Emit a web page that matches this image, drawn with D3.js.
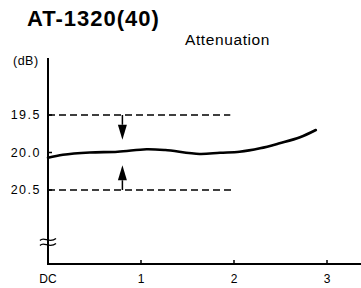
<!DOCTYPE html>
<html>
<head>
<meta charset="utf-8">
<script src="https://cdn.jsdelivr.net/npm/d3@7"></script>
<style>
  body { margin: 0; background: #fff; }
  svg { display: block; font-family: "Liberation Sans", Arial, sans-serif; }
</style>
</head>
<body>
<svg id="chart" width="361" height="288"></svg>
<script>
// frequency (DC, 1, 2, 3) vs attenuation in dB
const freqTicks = [0, 1, 2, 3];
const freqLabels = ["DC", "1", "2", "3"];
const dbTicks = [19.5, 20.0, 20.5];
const dbLabels = ["19.5", "20.0", "20.5"];

const curveFreq = [0, 0.16, 0.45, 0.75, 1.06, 1.26, 1.63, 1.85, 2.06, 2.28, 2.49, 2.71, 2.88];
const curveDb = [20.07, 20.03, 20.0, 19.99, 19.956, 19.967, 20.02, 20.003, 19.99, 19.944, 19.877, 19.797, 19.7];

const limitDb = [19.5, 20.5];
const limitEnd = [1.96, 2.01];

const svg = d3.select("#chart");

let x = d3.scaleLinear().domain([0, 3]).range([48, 327]);
let y = d3.scaleLinear().domain([19.5, 20.5]).range([115, 190]);

let axisTop = 58;
let axisBottom = 264;

// title
svg.append("text")
  .attr("x", 27)
  .attr("y", 26)
  .attr("font-size", "22px")
  .attr("font-weight", "bold")
  .attr("letter-spacing", "1px")
  .text("AT-1320(40)");

svg.append("text")
  .attr("x", 185)
  .attr("y", 45)
  .attr("font-size", "15.5px")
  .attr("letter-spacing", "0.6px")
  .text("Attenuation");

svg.append("text")
  .attr("x", 13)
  .attr("y", 65)
  .attr("font-size", "12.5px")
  .attr("letter-spacing", "0.5px")
  .text("(dB)");

// dashed limit lines
svg.selectAll(".limit")
  .data(limitDb)
  .enter()
  .append("line")
  .attr("x1", x(0))
  .attr("x2", (d, i) => x(limitEnd[i]))
  .attr("y1", d => y(d))
  .attr("y2", d => y(d))
  .attr("stroke", "#000")
  .attr("stroke-width", 1.4)
  .attr("stroke-dasharray", "7,4");

// arrows from limits toward the curve
const arrowX = x(0.8);
function arrow(from, tip) {
  let dir = Math.sign(y(tip) - y(from));
  let base = y(tip) - dir * 15;
  svg.append("line")
    .attr("x1", arrowX).attr("x2", arrowX)
    .attr("y1", y(from)).attr("y2", base)
    .attr("stroke", "#000").attr("stroke-width", 1.5);
  svg.append("path")
    .attr("d", `M${arrowX - 4.5},${base}L${arrowX + 4.5},${base}L${arrowX},${y(tip)}Z`)
    .attr("fill", "#000");
}
arrow(19.5, 19.83);
arrow(20.5, 20.17);

// axes
svg.append("line")
  .attr("x1", x(0)).attr("x2", x(0))
  .attr("y1", axisTop).attr("y2", axisBottom)
  .attr("stroke", "#000").attr("stroke-width", 2);

svg.append("line")
  .attr("x1", x(0) - 1).attr("x2", 361)
  .attr("y1", axisBottom).attr("y2", axisBottom)
  .attr("stroke", "#000").attr("stroke-width", 2);

// axis break
[-2.5, 2.5].forEach(function(off) {
  svg.append("path")
    .attr("d", `M${x(0) - 8},${242 + off + 1}C${x(0) - 4},${242 + off - 4} ${x(0) + 1},${242 + off + 5} ${x(0) + 8},${242 + off - 1}`)
    .attr("fill", "none")
    .attr("stroke", "#000")
    .attr("stroke-width", 1.3);
});

// x ticks
svg.selectAll(".xtick")
  .data(freqTicks.slice(1))
  .enter()
  .append("line")
  .attr("x1", d => x(d)).attr("x2", d => x(d))
  .attr("y1", axisBottom).attr("y2", axisBottom - 4)
  .attr("stroke", "#000").attr("stroke-width", 1.5);

svg.selectAll(".xlabel")
  .data(freqTicks)
  .enter()
  .append("text")
  .attr("x", d => x(d))
  .attr("y", 283)
  .attr("text-anchor", "middle")
  .attr("font-size", "12px")
  .text((d, i) => freqLabels[i]);

// y labels and small ticks
svg.selectAll(".ylabel")
  .data(dbTicks)
  .enter()
  .append("text")
  .attr("x", 41)
  .attr("y", d => y(d))
  .attr("dy", "0.35em")
  .attr("text-anchor", "end")
  .attr("font-size", "12.5px")
  .attr("letter-spacing", "1.5px")
  .text((d, i) => dbLabels[i]);

svg.selectAll(".ytick")
  .data(dbTicks)
  .enter()
  .append("line")
  .attr("x1", x(0)).attr("x2", x(0) + 4)
  .attr("y1", d => y(d)).attr("y2", d => y(d))
  .attr("stroke", "#000").attr("stroke-width", 1.5);

// curve
let line = d3.line()
  .x((d, i) => x(curveFreq[i]))
  .y(d => y(d))
  .curve(d3.curveCatmullRom);

svg.append("path")
  .attr("d", line(curveDb))
  .attr("fill", "none")
  .attr("stroke", "#000")
  .attr("stroke-width", 2.6)
  .attr("stroke-linecap", "round");
</script>
</body>
</html>
